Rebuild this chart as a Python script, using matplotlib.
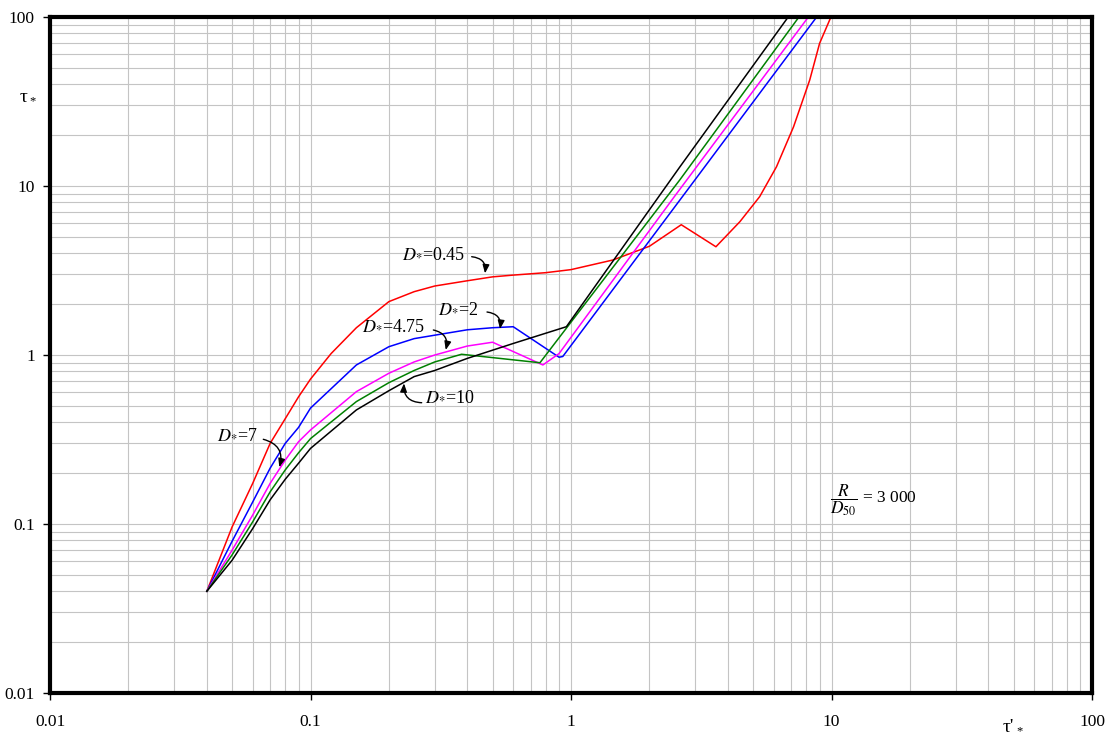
import numpy as np
import matplotlib
matplotlib.use('Agg')
import matplotlib.pyplot as plt

plt.rcParams['font.family'] = ['Liberation Serif', 'DejaVu Serif']
plt.rcParams['mathtext.fontset'] = 'stix'

# Courbes tau* = f(tau'*) pour R/D50 = 3000

x_045 = [0.04, 0.05, 0.06, 0.07, 0.08, 0.09, 0.1, 0.12, 0.15, 0.2, 0.25, 0.3, 0.4, 0.5, 0.6, 0.8, 1.0,
         1.45, 2.0, 2.65, 3.6, 4.45, 5.3, 6.15, 7.15, 8.25, 9.0, 9.95]
y_045 = [0.04, 0.096, 0.174, 0.30, 0.42, 0.566, 0.72, 1.02, 1.45, 2.07, 2.37, 2.56, 2.75, 2.9, 2.97, 3.07, 3.2,
         3.65, 4.4, 5.9, 4.37, 6.15, 8.65, 13.0, 22.4, 42.4, 69.8, 100]

x_2 = [0.04, 0.05, 0.06, 0.07, 0.08, 0.09, 0.1, 0.15, 0.2, 0.25, 0.3, 0.4, 0.5, 0.6, 0.9, 0.93, 2.62, 8.77]
y_2 = [0.04, 0.079, 0.135, 0.214, 0.30, 0.373, 0.485, 0.873, 1.12, 1.25, 1.31, 1.41, 1.45, 1.47, 0.97, 0.98, 8.27, 100]

x_475 = [0.04, 0.05, 0.06, 0.07, 0.08, 0.09, 0.1, 0.15, 0.2, 0.25, 0.3, 0.4, 0.5, 0.78, 0.9, 2.5, 8.15]
y_475 = [0.04, 0.070, 0.113, 0.174, 0.239, 0.307, 0.36, 0.607, 0.78, 0.91, 1.0, 1.13, 1.19, 0.873, 1.02, 8.7, 100]

x_7 = [0.04, 0.05, 0.06, 0.07, 0.08, 0.09, 0.1, 0.15, 0.2, 0.25, 0.3, 0.38, 0.76, 2.62, 7.5]
y_7 = [0.04, 0.0656, 0.103, 0.155, 0.209, 0.264, 0.32, 0.53, 0.686, 0.81, 0.91, 1.01, 0.90, 10.9, 100]

x_10 = [0.04, 0.05, 0.06, 0.07, 0.08, 0.09, 0.1, 0.15, 0.2, 0.25, 0.3, 0.4, 0.6, 0.96, 2.62, 6.82]
y_10 = [0.04, 0.061, 0.094, 0.139, 0.184, 0.229, 0.28, 0.473, 0.615, 0.745, 0.81, 0.955, 1.17, 1.47, 13.0, 100]

fig = plt.figure(figsize=(11.07, 7.36), dpi=100)
ax = fig.add_axes([50/1107, 43/736, 1042/1107, 676/736])

ax.plot(x_045, y_045, color='#ff0000', lw=1.1)
ax.plot(x_2, y_2, color='#0000ff', lw=1.1)
ax.plot(x_475, y_475, color='#ff00ff', lw=1.1)
ax.plot(x_7, y_7, color='#008000', lw=1.1)
ax.plot(x_10, y_10, color='black', lw=1.1)

ax.set_xscale('log')
ax.set_yscale('log')
ax.set_xlim(0.01, 100)
ax.set_ylim(0.01, 100)
ax.set_xticks([0.01, 0.1, 1, 10, 100])
ax.set_xticklabels(['0.01', '0.1', '1', '10', '100'])
ax.set_yticks([0.01, 0.1, 1, 10, 100])
ax.set_yticklabels(['0.01', '0.1', '1', '10', '100'])
ax.grid(which='both', color='#c4c4c4', lw=0.8)
ax.set_axisbelow(True)
ax.tick_params(which='major', direction='out', length=5, width=1, labelsize=12.5)
ax.tick_params(axis='x', pad=10)
ax.tick_params(axis='y', pad=6)
ax.tick_params(which='minor', length=0)
for s in ax.spines.values():
    s.set_linewidth(3)

# etiquettes des courbes (coordonnees fraction d'axes)
labels = [(r'$D_{*}$=0.45', 0.3375, 0.6504, (0.4047, 0.6454), (0.4175, 0.6208), -0.5),
          (r'$D_{*}$=2', 0.3724, 0.5695, (0.4194, 0.5636), (0.4319, 0.5385), -0.5),
          (r'$D_{*}$=4.75', 0.2991, 0.5429, (0.3679, 0.5370), (0.3798, 0.5074), -0.5),
          (r'$D_{*}$=10', 0.3599, 0.4393, (0.3567, 0.4294), (0.3397, 0.4581), -0.5),
          (r'$D_{*}$=7', 0.1600, 0.3831, (0.2047, 0.3753), (0.2201, 0.3339), -0.5)]
for txt, tx, ty, p0, p1, rad in labels:
    ax.text(tx, ty, txt, transform=ax.transAxes, fontsize=13, ha='left', va='center')
    ax.annotate('', xy=p1, xytext=p0, xycoords='axes fraction', textcoords='axes fraction',
                arrowprops=dict(arrowstyle='-|>,head_length=0.5,head_width=0.2', color='black', lw=1,
                                shrinkA=0, shrinkB=0, connectionstyle='arc3,rad=%s' % rad))

ax.text(0.7486, 0.2855, r'$\dfrac{R}{D_{50}}$ = 3 000', transform=ax.transAxes, fontsize=12.5,
        ha='left', va='center')

# titres des axes
fig.text(20/1107, 1 - 97/736, u'\u03c4', fontsize=14, ha='left', va='center')
fig.text(29/1107, 1 - 101/736, '*', fontsize=9, ha='left', va='center')
fig.text(1003/1107, 1 - 727/736, u"\u03c4'", fontsize=14, ha='left', va='center')
fig.text(1016/1107, 1 - 731/736, '*', fontsize=9, ha='left', va='center')

plt.savefig('out.png', dpi=100)
